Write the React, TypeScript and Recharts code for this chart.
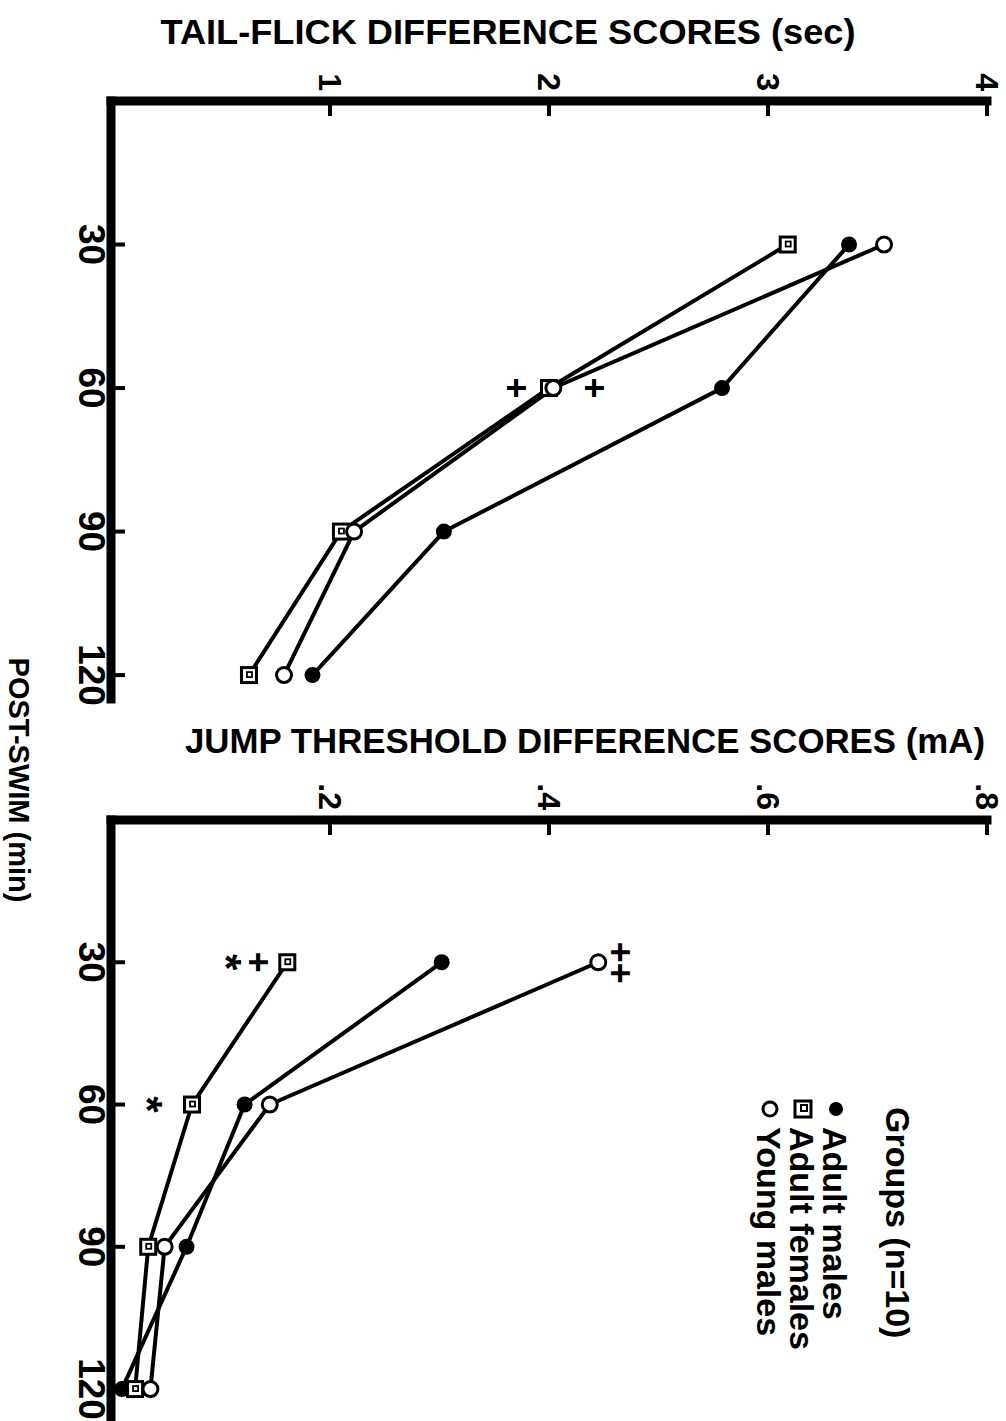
import React from 'react';
import { ComposedChart, Line, XAxis, YAxis, ReferenceDot } from 'recharts';

// ---------- data ----------
const times = [30, 60, 90, 120];
const seriesNames = ['Adult males', 'Adult females', 'Young males'];

// Tail-flick difference scores (sec)
const tfAdultMales = [3.37, 2.79, 1.52, 0.92];
const tfAdultFemales = [3.09, 2.0, 1.05, 0.63];
const tfYoungMales = [3.53, 2.02, 1.11, 0.79];

// Jump threshold difference scores (mA)
const jtAdultMales = [0.302, 0.122, 0.069, 0.01];
const jtAdultFemales = [0.161, 0.074, 0.034, 0.022];
const jtYoungMales = [0.445, 0.145, 0.049, 0.036];

const timeTicks = [30, 60, 90, 120];
const tfTicks = [1, 2, 3, 4];
const jtTicks = [0.2, 0.4, 0.6, 0.8];

// significance marks
const tfMarks = [
  { t: 60, v: 1.85, s: '+' },
  { t: 60, v: 2.21, s: '+' },
];
const jtMarks = [
  { t: 30, v: 0.115, s: '*' },
  { t: 30, v: 0.135, s: '+' },
  { t: 27.9, v: 0.465, s: '+' },
  { t: 32.3, v: 0.465, s: '+' },
  { t: 60, v: 0.043, s: '*' },
];

const FONT = '"Liberation Sans", Arial, Helvetica, sans-serif';

// ---------- marks ----------
const FilledDot = (p: any) => {
  if (p.cx == null || p.cy == null) return null;
  return <circle key={`f${p.index}`} cx={p.cx} cy={p.cy} r={8} fill="#000" />;
};
const OpenDot = (p: any) => {
  if (p.cx == null || p.cy == null) return null;
  return <circle key={`o${p.index}`} cx={p.cx} cy={p.cy} r={7.5} fill="#fff" stroke="#000" strokeWidth={3} />;
};
const SquareDot = (p: any) => {
  if (p.cx == null || p.cy == null) return null;
  return (
    <g key={`s${p.index}`}>
      <rect x={p.cx - 7.5} y={p.cy - 7.5} width={15} height={15} fill="#fff" stroke="#000" strokeWidth={3} />
      <rect x={p.cx - 3} y={p.cy - 3} width={5} height={5} fill="none" stroke="#000" strokeWidth={1.8} />
    </g>
  );
};

const SymbolMark = ({ cx, cy, s }: any) => {
  const fs = s === '*' ? 42 : 36;
  const dy = s === '*' ? 0.6 * fs : 0.35 * fs;
  return (
    <text x={cx} y={cy + dy} textAnchor="middle" fontSize={fs} fontWeight="bold" fontFamily={FONT} fill="#000">
      {s}
    </text>
  );
};

// ---------- ticks ----------
const TimeTick = (props: any) => {
  const { x, y, payload } = props;
  return (
    <g>
      <line x1={x} y1={y} x2={x} y2={y - 14} stroke="#000" strokeWidth={4} />
      <text x={x} y={y + 32} textAnchor="middle" fontSize={37} fontWeight="bold" fontFamily={FONT} fill="#000">
        {payload.value}
      </text>
    </g>
  );
};

const makeValueTick = (fmt: (v: number) => string) => (props: any) => {
  const { x, y, payload } = props;
  return (
    <g>
      <line x1={x} y1={y} x2={x + 15} y2={y} stroke="#000" strokeWidth={4} />
      <text x={x - 10} y={y + 11.5} textAnchor="end" fontSize={32} fontWeight="bold" fontFamily={FONT} fill="#000">
        {fmt(payload.value)}
      </text>
    </g>
  );
};

const tfTick = makeValueTick((v) => String(v));
const jtTick = makeValueTick((v) => v.toFixed(1).replace(/^0/, ''));

const axisStyle = { stroke: '#000', strokeWidth: 9, strokeLinecap: 'square' as const };

const tfTitle = () => (
  <text
    x={31}
    y={498}
    transform="rotate(-90, 31, 498)"
    textAnchor="middle"
    dominantBaseline="central"
    fontSize={35}
    fontWeight="bold"
    fontFamily={FONT}
    fill="#000"
    textLength={695}
    lengthAdjust="spacingAndGlyphs"
  >
    TAIL-FLICK DIFFERENCE SCORES (sec)
  </text>
);

const jtTitle = () => (
  <text
    x={140}
    y={421}
    transform="rotate(-90, 140, 421)"
    textAnchor="middle"
    dominantBaseline="central"
    fontSize={35}
    fontWeight="bold"
    fontFamily={FONT}
    fill="#000"
    textLength={800}
    lengthAdjust="spacingAndGlyphs"
  >
    JUMP THRESHOLD DIFFERENCE SCORES (mA)
  </text>
);

const timeTitle = () => (
  <text x={180} y={997} textAnchor="middle" fontSize={29} fontWeight="bold" fontFamily={FONT} fill="#000">
    POST-SWIM (min)
  </text>
);

export default function App() {
  const tfRows = times.map((t, i) => ({ t, am: tfAdultMales[i], af: tfAdultFemales[i], ym: tfYoungMales[i] }));
  const jtRows = times.map((t, i) => ({ t, am: jtAdultMales[i], af: jtAdultFemales[i], ym: jtYoungMales[i] }));

  const legendRows = [
    { name: seriesNames[0], kind: 'filled', y: 183 },
    { name: seriesNames[1], kind: 'square', y: 216 },
    { name: seriesNames[2], kind: 'open', y: 249 },
  ];

  return (
    <div style={{ position: 'absolute', left: 0, top: 0, width: 1006, height: 1421, overflow: 'hidden', background: '#fff' }}>
      <div
        style={{
          position: 'absolute',
          left: 0,
          top: 0,
          width: 1421,
          height: 1006,
          transformOrigin: '0 0',
          transform: 'translate(1006px, 0px) rotate(90deg)',
        }}
      >
        <div style={{ position: 'absolute', left: 0, top: 0 }}>
          <ComposedChart width={722} height={1006} data={tfRows} margin={{ top: 19, right: 23, bottom: 0, left: 0 }}>
            <XAxis
              type="number"
              dataKey="t"
              domain={[0, 125]}
              ticks={timeTicks}
              interval={0}
              height={111}
              tickSize={0}
              tickMargin={0}
              tickLine={false}
              axisLine={axisStyle}
              tick={TimeTick}
            />
            <YAxis
              type="number"
              domain={[0, 4]}
              ticks={tfTicks}
              interval={0}
              width={101}
              tickSize={0}
              tickMargin={0}
              tickLine={false}
              axisLine={axisStyle}
              tick={tfTick}
              label={tfTitle}
            />
            <Line type="linear" dataKey="am" name={seriesNames[0]} stroke="#000" strokeWidth={4} dot={FilledDot} activeDot={false} isAnimationActive={false} />
            <Line type="linear" dataKey="af" name={seriesNames[1]} stroke="#000" strokeWidth={4} dot={SquareDot} activeDot={false} isAnimationActive={false} />
            <Line type="linear" dataKey="ym" name={seriesNames[2]} stroke="#000" strokeWidth={4} dot={OpenDot} activeDot={false} isAnimationActive={false} />
            {tfMarks.map((m, i) => (
              <ReferenceDot
                key={`tfm${i}`}
                x={m.t}
                y={m.v}
                r={0}
                ifOverflow="visible"
                shape={(p: any) => <SymbolMark cx={p.cx} cy={p.cy} s={m.s} />}
              />
            ))}
          </ComposedChart>
        </div>
        <div style={{ position: 'absolute', left: 600, top: 0 }}>
          <ComposedChart width={830} height={1006} data={jtRows} margin={{ top: 19, right: 3, bottom: 0, left: 0 }}>
            <XAxis
              type="number"
              dataKey="t"
              domain={[0, 128]}
              ticks={timeTicks}
              interval={0}
              height={111}
              tickSize={0}
              tickMargin={0}
              tickLine={false}
              axisLine={axisStyle}
              tick={TimeTick}
              label={timeTitle}
            />
            <YAxis
              type="number"
              domain={[0, 0.8]}
              ticks={jtTicks}
              interval={0}
              width={220}
              tickSize={0}
              tickMargin={0}
              tickLine={false}
              axisLine={axisStyle}
              tick={jtTick}
              label={jtTitle}
            />
            <Line type="linear" dataKey="am" name={seriesNames[0]} stroke="#000" strokeWidth={4} dot={FilledDot} activeDot={false} isAnimationActive={false} />
            <Line type="linear" dataKey="af" name={seriesNames[1]} stroke="#000" strokeWidth={4} dot={SquareDot} activeDot={false} isAnimationActive={false} />
            <Line type="linear" dataKey="ym" name={seriesNames[2]} stroke="#000" strokeWidth={4} dot={OpenDot} activeDot={false} isAnimationActive={false} />
            {jtMarks.map((m, i) => (
              <ReferenceDot
                key={`jtm${i}`}
                x={m.t}
                y={m.v}
                r={0}
                ifOverflow="visible"
                shape={(p: any) => <SymbolMark cx={p.cx} cy={p.cy} s={m.s} />}
              />
            ))}
          </ComposedChart>
        </div>
        <svg width={1421} height={1006} style={{ position: 'absolute', left: 0, top: 0, pointerEvents: 'none' }}>
          <text x={1107} y={120} fontSize={34} fontWeight="bold" fontFamily={FONT} fill="#000">
            Groups (n=10)
          </text>
          {legendRows.map((r) => (
            <g key={r.name}>
              {r.kind === 'filled' && <circle cx={1109} cy={r.y - 13} r={7} fill="#000" />}
              {r.kind === 'square' && (
                <g>
                  <rect x={1101} y={r.y - 21} width={16} height={16} fill="#fff" stroke="#000" strokeWidth={3} />
                  <rect x={1105} y={r.y - 17} width={6} height={6} fill="none" stroke="#000" strokeWidth={2} />
                </g>
              )}
              {r.kind === 'open' && <circle cx={1109} cy={r.y - 13} r={7} fill="#fff" stroke="#000" strokeWidth={3} />}
              <text x={1127} y={r.y} fontSize={34} fontWeight="bold" fontFamily={FONT} fill="#000">
                {r.name}
              </text>
            </g>
          ))}
        </svg>
      </div>
    </div>
  );
}
